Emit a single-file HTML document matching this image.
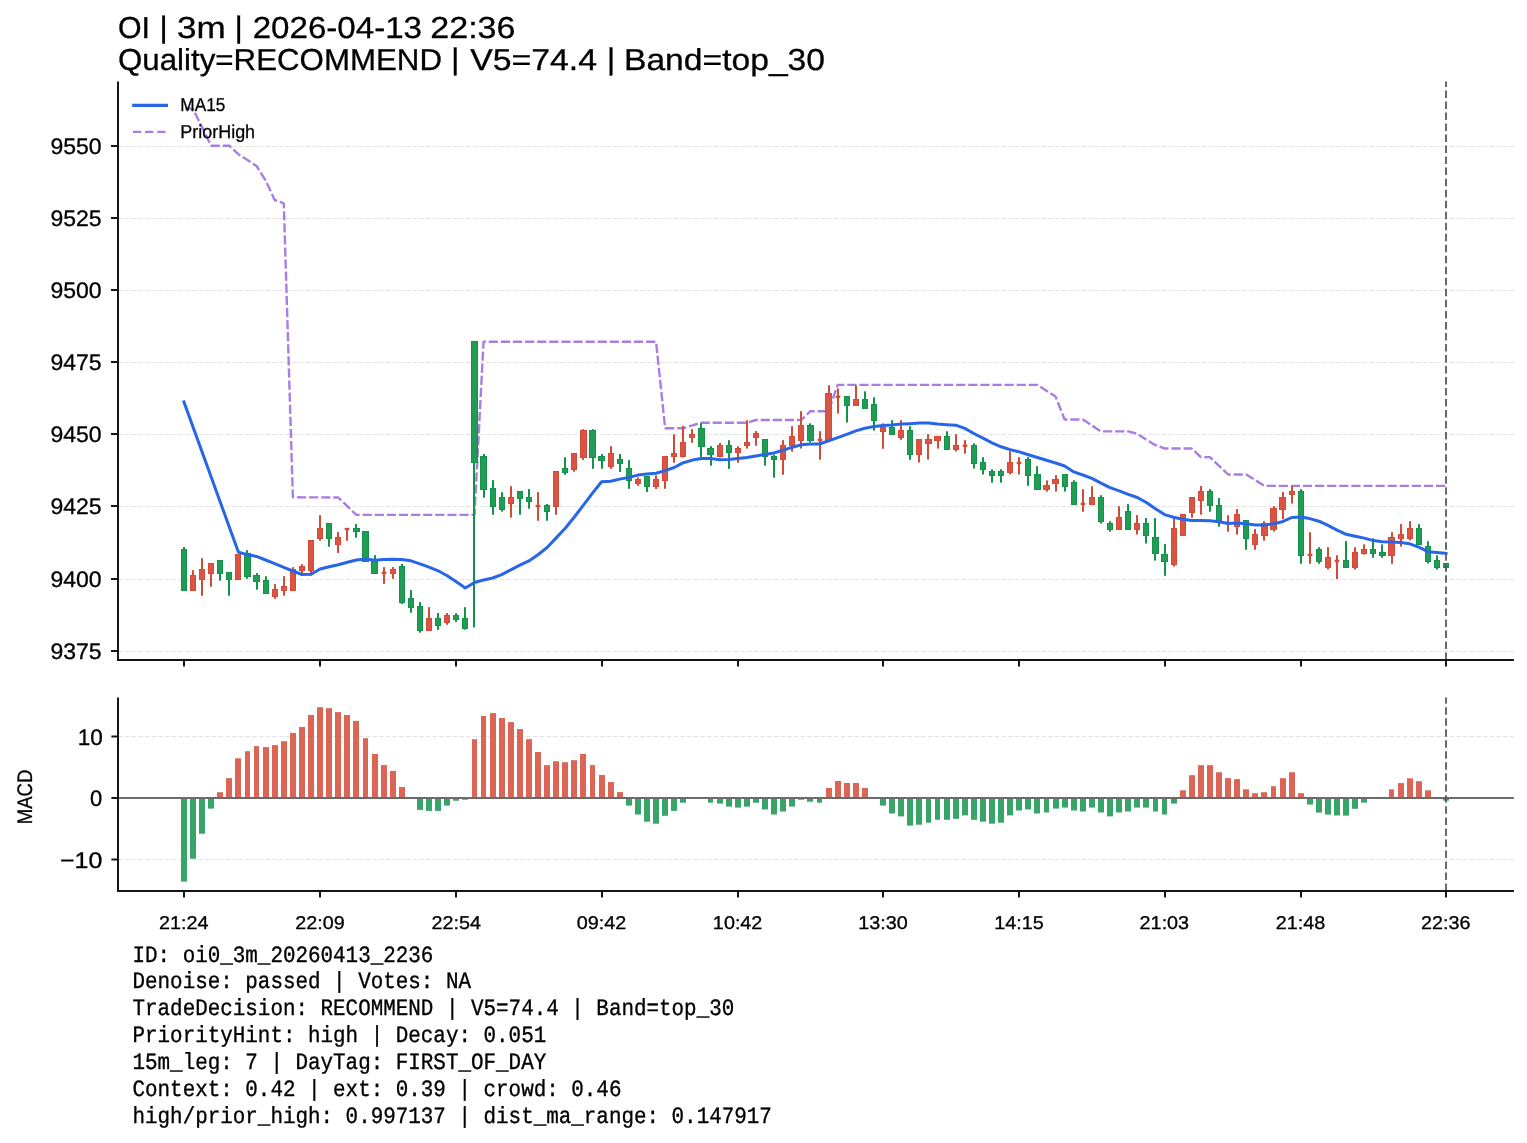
<!DOCTYPE html>
<html><head><meta charset="utf-8"><style>html,body{margin:0;padding:0;background:#fff;}svg{display:block;text-rendering:geometricPrecision;will-change:transform;}</style></head>
<body><svg width="1527" height="1143" viewBox="0 0 1527 1143">
<rect width="100%" height="100%" fill="#fff"/>
<g stroke="#e3e3e3" stroke-width="1" stroke-dasharray="4.5 2.19">
<line x1="118.3" y1="651.50" x2="1513.9" y2="651.50"/>
<line x1="118.3" y1="579.50" x2="1513.9" y2="579.50"/>
<line x1="118.3" y1="506.50" x2="1513.9" y2="506.50"/>
<line x1="118.3" y1="434.50" x2="1513.9" y2="434.50"/>
<line x1="118.3" y1="362.50" x2="1513.9" y2="362.50"/>
<line x1="118.3" y1="290.50" x2="1513.9" y2="290.50"/>
<line x1="118.3" y1="218.50" x2="1513.9" y2="218.50"/>
<line x1="118.3" y1="146.50" x2="1513.9" y2="146.50"/>
<line x1="118.3" y1="736.50" x2="1513.9" y2="736.50"/>
<line x1="118.3" y1="859.50" x2="1513.9" y2="859.50"/>
</g>
<polyline points="183.90,108.10 192.98,109.00 211.14,145.70 229.30,145.70 238.38,154.20 247.46,160.10 256.54,166.00 265.62,180.40 274.70,200.00 283.78,203.30 292.86,497.30 338.26,497.50 356.42,514.90 474.46,514.90 483.54,341.80 656.06,341.80 665.14,428.20 683.30,428.20 692.38,425.30 701.46,422.70 746.86,422.70 755.94,420.00 801.34,420.00 810.42,411.20 828.58,411.20 837.66,384.90 1037.42,384.90 1055.58,396.60 1064.66,419.50 1082.82,419.50 1100.98,431.40 1128.22,431.40 1137.30,433.80 1146.38,439.70 1155.46,445.20 1164.54,448.50 1191.78,448.50 1200.86,457.10 1209.94,457.10 1228.10,474.50 1246.26,474.50 1264.42,485.90 1446.02,485.90" fill="none" stroke="#a97ee3" stroke-width="2.4" stroke-dasharray="9.2 2.9" stroke-dashoffset="10.9" stroke-linejoin="round"/>
<rect x="183" y="547.12" width="2" height="43.59" fill="#11944a"/>
<rect x="181.5" y="549.5" width="5" height="41" fill="#209c55" stroke="#11944a" stroke-width="1"/>
<rect x="192" y="570.17" width="2" height="20.54" fill="#d34a36"/>
<rect x="190.5" y="575.5" width="5" height="15" fill="#d95442" stroke="#d34a36" stroke-width="1"/>
<rect x="201" y="558.12" width="2" height="37.62" fill="#d34a36"/>
<rect x="199.5" y="569.5" width="5" height="10" fill="#d95442" stroke="#d34a36" stroke-width="1"/>
<rect x="210" y="562.94" width="2" height="23.78" fill="#d34a36"/>
<rect x="208.5" y="563.5" width="5" height="10" fill="#d95442" stroke="#d34a36" stroke-width="1"/>
<rect x="219" y="560.01" width="2" height="20.64" fill="#11944a"/>
<rect x="217.5" y="560.5" width="5" height="13" fill="#209c55" stroke="#11944a" stroke-width="1"/>
<rect x="228" y="572.06" width="2" height="23.68" fill="#11944a"/>
<rect x="226.5" y="572.5" width="5" height="7" fill="#209c55" stroke="#11944a" stroke-width="1"/>
<rect x="237" y="553.93" width="2" height="25.88" fill="#d34a36"/>
<rect x="235.5" y="554.5" width="5" height="25" fill="#d95442" stroke="#d34a36" stroke-width="1"/>
<rect x="246" y="550.05" width="2" height="28.71" fill="#11944a"/>
<rect x="244.5" y="553.5" width="6" height="23" fill="#209c55" stroke="#11944a" stroke-width="1"/>
<rect x="256" y="573.11" width="2" height="16.55" fill="#11944a"/>
<rect x="253.5" y="575.5" width="6" height="6" fill="#209c55" stroke="#11944a" stroke-width="1"/>
<rect x="265" y="576.25" width="2" height="17.60" fill="#11944a"/>
<rect x="263.5" y="580.5" width="5" height="13" fill="#209c55" stroke="#11944a" stroke-width="1"/>
<rect x="274" y="584.11" width="2" height="14.67" fill="#d34a36"/>
<rect x="272.5" y="589.5" width="5" height="7" fill="#d95442" stroke="#d34a36" stroke-width="1"/>
<rect x="283" y="576.25" width="2" height="19.49" fill="#d34a36"/>
<rect x="281.5" y="586.5" width="5" height="4" fill="#d95442" stroke="#d34a36" stroke-width="1"/>
<rect x="292" y="567.13" width="2" height="23.58" fill="#d34a36"/>
<rect x="290.5" y="569.5" width="5" height="21" fill="#d95442" stroke="#d34a36" stroke-width="1"/>
<rect x="301" y="564.20" width="2" height="8.91" fill="#d34a36"/>
<rect x="299.5" y="566.5" width="5" height="4" fill="#d95442" stroke="#d34a36" stroke-width="1"/>
<rect x="310" y="540.21" width="2" height="35.21" fill="#d34a36"/>
<rect x="308.5" y="540.5" width="5" height="30" fill="#d95442" stroke="#d34a36" stroke-width="1"/>
<rect x="319" y="515.16" width="2" height="25.46" fill="#d34a36"/>
<rect x="317.5" y="528.5" width="5" height="10" fill="#d95442" stroke="#d34a36" stroke-width="1"/>
<rect x="328" y="523.02" width="2" height="23.68" fill="#11944a"/>
<rect x="326.5" y="523.5" width="5" height="15" fill="#209c55" stroke="#11944a" stroke-width="1"/>
<rect x="337" y="532.10" width="2" height="20.83" fill="#d34a36"/>
<rect x="335.5" y="537.5" width="5" height="7" fill="#d95442" stroke="#d34a36" stroke-width="1"/>
<rect x="346" y="528.42" width="2" height="12.37" fill="#d34a36"/>
<rect x="344.70" y="527.84" width="4.6" height="2.4" fill="#d34a36"/>
<rect x="355" y="524.13" width="2" height="13.60" fill="#11944a"/>
<rect x="353.5" y="528.5" width="6" height="3" fill="#209c55" stroke="#11944a" stroke-width="1"/>
<rect x="365" y="531.24" width="2" height="30.38" fill="#11944a"/>
<rect x="362.5" y="531.5" width="6" height="30" fill="#209c55" stroke="#11944a" stroke-width="1"/>
<rect x="374" y="555.13" width="2" height="18.74" fill="#11944a"/>
<rect x="371.5" y="560.5" width="6" height="13" fill="#209c55" stroke="#11944a" stroke-width="1"/>
<rect x="383" y="567.14" width="2" height="16.78" fill="#d34a36"/>
<rect x="381.70" y="571.69" width="4.6" height="2.4" fill="#d34a36"/>
<rect x="392" y="567.14" width="2" height="11.64" fill="#d34a36"/>
<rect x="390.5" y="569.5" width="5" height="4" fill="#d95442" stroke="#d34a36" stroke-width="1"/>
<rect x="401" y="564.07" width="2" height="39.82" fill="#11944a"/>
<rect x="399.5" y="566.5" width="5" height="36" fill="#209c55" stroke="#11944a" stroke-width="1"/>
<rect x="410" y="590.05" width="2" height="22.66" fill="#11944a"/>
<rect x="408.5" y="598.5" width="5" height="9" fill="#209c55" stroke="#11944a" stroke-width="1"/>
<rect x="419" y="602.05" width="2" height="30.63" fill="#11944a"/>
<rect x="417.5" y="606.5" width="5" height="24" fill="#209c55" stroke="#11944a" stroke-width="1"/>
<rect x="428" y="607.20" width="2" height="23.64" fill="#d34a36"/>
<rect x="426.5" y="618.5" width="5" height="12" fill="#d95442" stroke="#d34a36" stroke-width="1"/>
<rect x="437" y="613.08" width="2" height="16.78" fill="#11944a"/>
<rect x="435.5" y="618.5" width="5" height="7" fill="#209c55" stroke="#11944a" stroke-width="1"/>
<rect x="446" y="613.08" width="2" height="11.64" fill="#d34a36"/>
<rect x="444.5" y="615.5" width="5" height="7" fill="#d95442" stroke="#d34a36" stroke-width="1"/>
<rect x="455" y="613.08" width="2" height="8.82" fill="#11944a"/>
<rect x="453.5" y="615.5" width="5" height="4" fill="#209c55" stroke="#11944a" stroke-width="1"/>
<rect x="464" y="607.20" width="2" height="22.42" fill="#11944a"/>
<rect x="462.5" y="618.5" width="5" height="10" fill="#209c55" stroke="#11944a" stroke-width="1"/>
<rect x="473" y="341.40" width="2" height="286.10" fill="#11944a"/>
<rect x="471.5" y="341.5" width="6" height="121" fill="#209c55" stroke="#11944a" stroke-width="1"/>
<rect x="483" y="454.09" width="2" height="43.57" fill="#11944a"/>
<rect x="480.5" y="456.5" width="6" height="33" fill="#209c55" stroke="#11944a" stroke-width="1"/>
<rect x="492" y="480.13" width="2" height="34.65" fill="#11944a"/>
<rect x="490.5" y="488.5" width="5" height="18" fill="#209c55" stroke="#11944a" stroke-width="1"/>
<rect x="501" y="492.20" width="2" height="19.42" fill="#11944a"/>
<rect x="499.5" y="497.5" width="5" height="12" fill="#209c55" stroke="#11944a" stroke-width="1"/>
<rect x="510" y="486.12" width="2" height="31.50" fill="#d34a36"/>
<rect x="508.5" y="497.5" width="5" height="6" fill="#d95442" stroke="#d34a36" stroke-width="1"/>
<rect x="519" y="491.15" width="2" height="23.62" fill="#11944a"/>
<rect x="517.5" y="491.5" width="5" height="7" fill="#209c55" stroke="#11944a" stroke-width="1"/>
<rect x="528" y="489.06" width="2" height="19.63" fill="#11944a"/>
<rect x="526.5" y="497.5" width="5" height="4" fill="#209c55" stroke="#11944a" stroke-width="1"/>
<rect x="537" y="492.20" width="2" height="28.56" fill="#d34a36"/>
<rect x="535.70" y="504.86" width="4.6" height="2.4" fill="#d34a36"/>
<rect x="546" y="503.96" width="2" height="16.80" fill="#11944a"/>
<rect x="544.5" y="505.5" width="5" height="6" fill="#209c55" stroke="#11944a" stroke-width="1"/>
<rect x="555" y="471.21" width="2" height="43.57" fill="#d34a36"/>
<rect x="553.5" y="471.5" width="5" height="35" fill="#d95442" stroke="#d34a36" stroke-width="1"/>
<rect x="564" y="457.24" width="2" height="17.53" fill="#11944a"/>
<rect x="562.5" y="468.5" width="5" height="4" fill="#209c55" stroke="#11944a" stroke-width="1"/>
<rect x="573" y="453.04" width="2" height="18.69" fill="#d34a36"/>
<rect x="571.5" y="453.5" width="5" height="16" fill="#d95442" stroke="#d34a36" stroke-width="1"/>
<rect x="582" y="429.21" width="2" height="30.66" fill="#d34a36"/>
<rect x="580.5" y="430.5" width="6" height="27" fill="#d95442" stroke="#d34a36" stroke-width="1"/>
<rect x="592" y="429.21" width="2" height="39.58" fill="#11944a"/>
<rect x="589.5" y="430.5" width="6" height="27" fill="#209c55" stroke="#11944a" stroke-width="1"/>
<rect x="601" y="454.09" width="2" height="14.70" fill="#11944a"/>
<rect x="598.5" y="456.5" width="6" height="4" fill="#209c55" stroke="#11944a" stroke-width="1"/>
<rect x="610" y="446.22" width="2" height="22.57" fill="#d34a36"/>
<rect x="608.5" y="453.5" width="5" height="13" fill="#d95442" stroke="#d34a36" stroke-width="1"/>
<rect x="619" y="454.09" width="2" height="17.85" fill="#11944a"/>
<rect x="617.5" y="459.5" width="5" height="4" fill="#209c55" stroke="#11944a" stroke-width="1"/>
<rect x="628" y="460.12" width="2" height="28.66" fill="#11944a"/>
<rect x="626.5" y="468.5" width="5" height="12" fill="#209c55" stroke="#11944a" stroke-width="1"/>
<rect x="637" y="477.44" width="2" height="8.40" fill="#d34a36"/>
<rect x="635.5" y="479.5" width="5" height="4" fill="#d95442" stroke="#d34a36" stroke-width="1"/>
<rect x="646" y="476.39" width="2" height="15.54" fill="#11944a"/>
<rect x="644.5" y="476.5" width="5" height="10" fill="#209c55" stroke="#11944a" stroke-width="1"/>
<rect x="655" y="475.34" width="2" height="13.65" fill="#d34a36"/>
<rect x="653.5" y="479.5" width="5" height="7" fill="#d95442" stroke="#d34a36" stroke-width="1"/>
<rect x="664" y="456.23" width="2" height="32.55" fill="#d34a36"/>
<rect x="662.5" y="456.5" width="5" height="24" fill="#d95442" stroke="#d34a36" stroke-width="1"/>
<rect x="673" y="434.19" width="2" height="28.56" fill="#d34a36"/>
<rect x="671.5" y="453.5" width="5" height="3" fill="#d95442" stroke="#d34a36" stroke-width="1"/>
<rect x="682" y="426.00" width="2" height="31.50" fill="#d34a36"/>
<rect x="680.5" y="442.5" width="5" height="14" fill="#d95442" stroke="#d34a36" stroke-width="1"/>
<rect x="691" y="429.15" width="2" height="13.65" fill="#d34a36"/>
<rect x="689.5" y="434.5" width="5" height="3" fill="#d95442" stroke="#d34a36" stroke-width="1"/>
<rect x="700" y="423.06" width="2" height="33.91" fill="#11944a"/>
<rect x="698.5" y="428.5" width="6" height="18" fill="#209c55" stroke="#11944a" stroke-width="1"/>
<rect x="710" y="446.15" width="2" height="19.53" fill="#11944a"/>
<rect x="707.5" y="448.5" width="6" height="6" fill="#209c55" stroke="#11944a" stroke-width="1"/>
<rect x="719" y="443.01" width="2" height="14.49" fill="#d34a36"/>
<rect x="717.5" y="445.5" width="5" height="11" fill="#d95442" stroke="#d34a36" stroke-width="1"/>
<rect x="728" y="440.17" width="2" height="28.66" fill="#11944a"/>
<rect x="726.5" y="445.5" width="5" height="7" fill="#209c55" stroke="#11944a" stroke-width="1"/>
<rect x="737" y="446.15" width="2" height="16.59" fill="#d34a36"/>
<rect x="735.5" y="448.5" width="5" height="4" fill="#d95442" stroke="#d34a36" stroke-width="1"/>
<rect x="746" y="420.22" width="2" height="28.35" fill="#d34a36"/>
<rect x="744.5" y="442.5" width="5" height="3" fill="#d95442" stroke="#d34a36" stroke-width="1"/>
<rect x="755" y="431.04" width="2" height="14.70" fill="#d34a36"/>
<rect x="753.5" y="433.5" width="5" height="4" fill="#d95442" stroke="#d34a36" stroke-width="1"/>
<rect x="764" y="439.12" width="2" height="26.56" fill="#11944a"/>
<rect x="762.5" y="439.5" width="5" height="17" fill="#209c55" stroke="#11944a" stroke-width="1"/>
<rect x="773" y="454.83" width="2" height="22.78" fill="#11944a"/>
<rect x="771.5" y="456.5" width="5" height="3" fill="#209c55" stroke="#11944a" stroke-width="1"/>
<rect x="782" y="440.13" width="2" height="34.65" fill="#d34a36"/>
<rect x="780.5" y="445.5" width="5" height="14" fill="#d95442" stroke="#d34a36" stroke-width="1"/>
<rect x="791" y="426.17" width="2" height="25.51" fill="#d34a36"/>
<rect x="789.5" y="436.5" width="5" height="9" fill="#d95442" stroke="#d34a36" stroke-width="1"/>
<rect x="800" y="411.15" width="2" height="37.38" fill="#d34a36"/>
<rect x="798.5" y="425.5" width="5" height="15" fill="#d95442" stroke="#d34a36" stroke-width="1"/>
<rect x="809" y="423.33" width="2" height="19.11" fill="#11944a"/>
<rect x="807.5" y="425.5" width="6" height="15" fill="#209c55" stroke="#11944a" stroke-width="1"/>
<rect x="819" y="431.21" width="2" height="28.56" fill="#d34a36"/>
<rect x="817.70" y="438.62" width="4.6" height="2.4" fill="#d34a36"/>
<rect x="828" y="385.22" width="2" height="55.33" fill="#d34a36"/>
<rect x="825.5" y="393.5" width="6" height="47" fill="#d95442" stroke="#d34a36" stroke-width="1"/>
<rect x="837" y="388.37" width="2" height="25.20" fill="#d34a36"/>
<rect x="835.70" y="395.68" width="4.6" height="2.4" fill="#d34a36"/>
<rect x="846" y="396.25" width="2" height="26.25" fill="#11944a"/>
<rect x="844.5" y="396.5" width="5" height="9" fill="#209c55" stroke="#11944a" stroke-width="1"/>
<rect x="855" y="385.22" width="2" height="20.47" fill="#d34a36"/>
<rect x="853.5" y="399.5" width="5" height="6" fill="#d95442" stroke="#d34a36" stroke-width="1"/>
<rect x="864" y="391.31" width="2" height="17.32" fill="#11944a"/>
<rect x="862.5" y="399.5" width="5" height="9" fill="#209c55" stroke="#11944a" stroke-width="1"/>
<rect x="873" y="397.30" width="2" height="33.39" fill="#11944a"/>
<rect x="871.5" y="404.5" width="5" height="16" fill="#209c55" stroke="#11944a" stroke-width="1"/>
<rect x="882" y="423.33" width="2" height="25.41" fill="#d34a36"/>
<rect x="880.5" y="427.5" width="5" height="4" fill="#d95442" stroke="#d34a36" stroke-width="1"/>
<rect x="891" y="420.18" width="2" height="14.38" fill="#11944a"/>
<rect x="889.5" y="427.5" width="5" height="7" fill="#209c55" stroke="#11944a" stroke-width="1"/>
<rect x="900" y="420.18" width="2" height="19.63" fill="#d34a36"/>
<rect x="898.5" y="430.5" width="5" height="7" fill="#d95442" stroke="#d34a36" stroke-width="1"/>
<rect x="909" y="426.17" width="2" height="33.60" fill="#11944a"/>
<rect x="907.5" y="430.5" width="5" height="24" fill="#209c55" stroke="#11944a" stroke-width="1"/>
<rect x="918" y="439.12" width="2" height="23.41" fill="#d34a36"/>
<rect x="916.5" y="439.5" width="5" height="15" fill="#d95442" stroke="#d34a36" stroke-width="1"/>
<rect x="927" y="434.19" width="2" height="25.41" fill="#d34a36"/>
<rect x="925.5" y="439.5" width="6" height="4" fill="#d95442" stroke="#d34a36" stroke-width="1"/>
<rect x="937" y="436.18" width="2" height="12.39" fill="#d34a36"/>
<rect x="934.5" y="436.5" width="6" height="4" fill="#d95442" stroke="#d34a36" stroke-width="1"/>
<rect x="946" y="431.25" width="2" height="18.37" fill="#11944a"/>
<rect x="944.5" y="436.5" width="5" height="13" fill="#209c55" stroke="#11944a" stroke-width="1"/>
<rect x="955" y="434.19" width="2" height="17.32" fill="#d34a36"/>
<rect x="953.5" y="445.5" width="5" height="4" fill="#d95442" stroke="#d34a36" stroke-width="1"/>
<rect x="964" y="440.17" width="2" height="13.44" fill="#d34a36"/>
<rect x="962.70" y="444.53" width="4.6" height="2.4" fill="#d34a36"/>
<rect x="973" y="443.32" width="2" height="25.20" fill="#11944a"/>
<rect x="971.5" y="445.5" width="5" height="18" fill="#209c55" stroke="#11944a" stroke-width="1"/>
<rect x="982" y="457.18" width="2" height="17.32" fill="#11944a"/>
<rect x="980.5" y="462.5" width="5" height="7" fill="#209c55" stroke="#11944a" stroke-width="1"/>
<rect x="991" y="469.25" width="2" height="13.44" fill="#11944a"/>
<rect x="989.5" y="471.5" width="5" height="4" fill="#209c55" stroke="#11944a" stroke-width="1"/>
<rect x="1000" y="469.25" width="2" height="13.44" fill="#11944a"/>
<rect x="998.5" y="471.5" width="5" height="4" fill="#209c55" stroke="#11944a" stroke-width="1"/>
<rect x="1009" y="451.19" width="2" height="23.31" fill="#d34a36"/>
<rect x="1007.5" y="462.5" width="5" height="10" fill="#d95442" stroke="#d34a36" stroke-width="1"/>
<rect x="1018" y="457.18" width="2" height="17.32" fill="#d34a36"/>
<rect x="1016.70" y="461.70" width="4.6" height="2.4" fill="#d34a36"/>
<rect x="1027" y="457.18" width="2" height="28.66" fill="#11944a"/>
<rect x="1025.5" y="459.5" width="5" height="16" fill="#209c55" stroke="#11944a" stroke-width="1"/>
<rect x="1036" y="466.21" width="2" height="23.31" fill="#11944a"/>
<rect x="1034.5" y="474.5" width="6" height="15" fill="#209c55" stroke="#11944a" stroke-width="1"/>
<rect x="1046" y="480.38" width="2" height="11.23" fill="#d34a36"/>
<rect x="1043.5" y="485.5" width="6" height="4" fill="#d95442" stroke="#d34a36" stroke-width="1"/>
<rect x="1055" y="475.13" width="2" height="16.48" fill="#d34a36"/>
<rect x="1052.5" y="479.5" width="6" height="4" fill="#d95442" stroke="#d34a36" stroke-width="1"/>
<rect x="1064" y="474.20" width="2" height="17.32" fill="#11944a"/>
<rect x="1062.5" y="474.5" width="5" height="12" fill="#209c55" stroke="#11944a" stroke-width="1"/>
<rect x="1073" y="480.29" width="2" height="24.67" fill="#11944a"/>
<rect x="1071.5" y="482.5" width="5" height="22" fill="#209c55" stroke="#11944a" stroke-width="1"/>
<rect x="1082" y="489.21" width="2" height="22.57" fill="#d34a36"/>
<rect x="1080.70" y="502.71" width="4.6" height="2.4" fill="#d34a36"/>
<rect x="1091" y="486.27" width="2" height="18.69" fill="#d34a36"/>
<rect x="1089.5" y="497.5" width="5" height="7" fill="#d95442" stroke="#d34a36" stroke-width="1"/>
<rect x="1100" y="495.20" width="2" height="28.35" fill="#11944a"/>
<rect x="1098.5" y="497.5" width="5" height="24" fill="#209c55" stroke="#11944a" stroke-width="1"/>
<rect x="1109" y="521.23" width="2" height="10.50" fill="#11944a"/>
<rect x="1107.5" y="523.5" width="5" height="6" fill="#209c55" stroke="#11944a" stroke-width="1"/>
<rect x="1118" y="506.22" width="2" height="23.62" fill="#d34a36"/>
<rect x="1116.5" y="517.5" width="5" height="12" fill="#d95442" stroke="#d34a36" stroke-width="1"/>
<rect x="1127" y="504.12" width="2" height="25.72" fill="#11944a"/>
<rect x="1125.5" y="511.5" width="5" height="18" fill="#209c55" stroke="#11944a" stroke-width="1"/>
<rect x="1136" y="515.14" width="2" height="19.42" fill="#d34a36"/>
<rect x="1134.5" y="523.5" width="5" height="6" fill="#d95442" stroke="#d34a36" stroke-width="1"/>
<rect x="1145" y="518.08" width="2" height="25.41" fill="#11944a"/>
<rect x="1143.5" y="523.5" width="5" height="12" fill="#209c55" stroke="#11944a" stroke-width="1"/>
<rect x="1154" y="518.08" width="2" height="42.52" fill="#11944a"/>
<rect x="1152.5" y="537.5" width="6" height="16" fill="#209c55" stroke="#11944a" stroke-width="1"/>
<rect x="1164" y="544.02" width="2" height="31.81" fill="#11944a"/>
<rect x="1161.5" y="554.5" width="6" height="7" fill="#209c55" stroke="#11944a" stroke-width="1"/>
<rect x="1173" y="518.29" width="2" height="48.29" fill="#d34a36"/>
<rect x="1171.5" y="528.5" width="5" height="36" fill="#d95442" stroke="#d34a36" stroke-width="1"/>
<rect x="1182" y="514.09" width="2" height="21.84" fill="#d34a36"/>
<rect x="1180.5" y="514.5" width="5" height="21" fill="#d95442" stroke="#d34a36" stroke-width="1"/>
<rect x="1191" y="497.30" width="2" height="20.47" fill="#d34a36"/>
<rect x="1189.5" y="497.5" width="5" height="15" fill="#d95442" stroke="#d34a36" stroke-width="1"/>
<rect x="1200" y="486.06" width="2" height="28.56" fill="#d34a36"/>
<rect x="1198.5" y="491.5" width="5" height="9" fill="#d95442" stroke="#d34a36" stroke-width="1"/>
<rect x="1209" y="489.17" width="2" height="22.57" fill="#11944a"/>
<rect x="1207.5" y="491.5" width="5" height="14" fill="#209c55" stroke="#11944a" stroke-width="1"/>
<rect x="1218" y="498.10" width="2" height="28.56" fill="#11944a"/>
<rect x="1216.5" y="505.5" width="5" height="15" fill="#209c55" stroke="#11944a" stroke-width="1"/>
<rect x="1227" y="515.21" width="2" height="16.48" fill="#d34a36"/>
<rect x="1225.70" y="521.67" width="4.6" height="2.4" fill="#d34a36"/>
<rect x="1236" y="509.12" width="2" height="25.51" fill="#d34a36"/>
<rect x="1234.5" y="514.5" width="5" height="12" fill="#d95442" stroke="#d34a36" stroke-width="1"/>
<rect x="1245" y="520.14" width="2" height="29.61" fill="#11944a"/>
<rect x="1243.5" y="520.5" width="5" height="18" fill="#209c55" stroke="#11944a" stroke-width="1"/>
<rect x="1254" y="529.07" width="2" height="20.68" fill="#d34a36"/>
<rect x="1252.5" y="534.5" width="5" height="10" fill="#d95442" stroke="#d34a36" stroke-width="1"/>
<rect x="1263" y="521.19" width="2" height="19.42" fill="#d34a36"/>
<rect x="1261.5" y="523.5" width="6" height="12" fill="#d95442" stroke="#d34a36" stroke-width="1"/>
<rect x="1273" y="506.18" width="2" height="25.30" fill="#d34a36"/>
<rect x="1270.5" y="508.5" width="6" height="21" fill="#d95442" stroke="#d34a36" stroke-width="1"/>
<rect x="1282" y="492.11" width="2" height="26.98" fill="#d34a36"/>
<rect x="1279.5" y="497.5" width="6" height="12" fill="#d95442" stroke="#d34a36" stroke-width="1"/>
<rect x="1291" y="486.02" width="2" height="17.53" fill="#d34a36"/>
<rect x="1289.5" y="491.5" width="5" height="3" fill="#d95442" stroke="#d34a36" stroke-width="1"/>
<rect x="1300" y="489.17" width="2" height="74.54" fill="#11944a"/>
<rect x="1298.5" y="491.5" width="5" height="64" fill="#209c55" stroke="#11944a" stroke-width="1"/>
<rect x="1309" y="532.22" width="2" height="31.50" fill="#d34a36"/>
<rect x="1307.70" y="553.75" width="4.6" height="2.4" fill="#d34a36"/>
<rect x="1318" y="547.23" width="2" height="16.48" fill="#11944a"/>
<rect x="1316.5" y="549.5" width="5" height="12" fill="#209c55" stroke="#11944a" stroke-width="1"/>
<rect x="1327" y="547.23" width="2" height="22.26" fill="#d34a36"/>
<rect x="1325.5" y="557.5" width="5" height="10" fill="#d95442" stroke="#d34a36" stroke-width="1"/>
<rect x="1336" y="555.31" width="2" height="23.62" fill="#d34a36"/>
<rect x="1334.70" y="559.73" width="4.6" height="2.4" fill="#d34a36"/>
<rect x="1345" y="541.14" width="2" height="26.46" fill="#11944a"/>
<rect x="1343.5" y="560.5" width="5" height="7" fill="#209c55" stroke="#11944a" stroke-width="1"/>
<rect x="1354" y="547.22" width="2" height="22.36" fill="#d34a36"/>
<rect x="1352.5" y="552.5" width="5" height="15" fill="#d95442" stroke="#d34a36" stroke-width="1"/>
<rect x="1363" y="544.38" width="2" height="10.18" fill="#d34a36"/>
<rect x="1361.5" y="549.5" width="5" height="4" fill="#d95442" stroke="#d34a36" stroke-width="1"/>
<rect x="1372" y="538.29" width="2" height="19.42" fill="#11944a"/>
<rect x="1370.5" y="549.5" width="5" height="4" fill="#209c55" stroke="#11944a" stroke-width="1"/>
<rect x="1381" y="544.38" width="2" height="13.33" fill="#11944a"/>
<rect x="1379.5" y="552.5" width="6" height="3" fill="#209c55" stroke="#11944a" stroke-width="1"/>
<rect x="1391" y="532.20" width="2" height="31.60" fill="#d34a36"/>
<rect x="1388.5" y="537.5" width="6" height="18" fill="#d95442" stroke="#d34a36" stroke-width="1"/>
<rect x="1400" y="524.12" width="2" height="22.57" fill="#d34a36"/>
<rect x="1398.5" y="534.5" width="5" height="4" fill="#d95442" stroke="#d34a36" stroke-width="1"/>
<rect x="1409" y="521.18" width="2" height="19.21" fill="#d34a36"/>
<rect x="1407.5" y="528.5" width="5" height="10" fill="#d95442" stroke="#d34a36" stroke-width="1"/>
<rect x="1418" y="524.12" width="2" height="20.47" fill="#11944a"/>
<rect x="1416.5" y="528.5" width="5" height="16" fill="#209c55" stroke="#11944a" stroke-width="1"/>
<rect x="1427" y="541.23" width="2" height="22.26" fill="#11944a"/>
<rect x="1425.5" y="546.5" width="5" height="15" fill="#209c55" stroke="#11944a" stroke-width="1"/>
<rect x="1436" y="555.30" width="2" height="14.28" fill="#11944a"/>
<rect x="1434.5" y="560.5" width="5" height="7" fill="#209c55" stroke="#11944a" stroke-width="1"/>
<rect x="1445" y="563.28" width="2" height="7.35" fill="#11944a"/>
<rect x="1443.5" y="563.5" width="5" height="4" fill="#209c55" stroke="#11944a" stroke-width="1"/>
<polyline points="183.90,401.80 238.38,552.10 247.46,554.80 256.54,556.40 265.62,560.00 274.70,563.70 283.78,567.30 292.86,571.00 301.94,574.50 311.02,574.20 320.10,569.00 329.18,566.80 338.26,564.80 347.34,562.30 356.42,560.00 365.50,558.90 374.58,560.20 383.66,559.60 392.74,559.20 401.82,559.60 410.90,560.80 419.98,563.80 429.06,567.20 438.14,570.80 447.22,575.80 456.30,581.80 465.38,588.00 474.46,582.50 483.54,580.00 492.62,578.00 501.70,574.60 510.78,569.80 519.86,565.10 528.94,560.90 538.02,554.70 547.10,547.50 556.18,537.90 565.26,528.20 574.34,517.00 583.42,505.10 592.50,493.20 601.58,481.80 610.66,481.30 619.74,479.10 628.82,477.40 637.90,475.10 646.98,474.10 656.06,473.20 665.14,470.60 674.22,467.50 683.30,462.70 692.38,460.10 701.46,458.50 710.54,458.50 719.62,459.80 728.70,459.40 737.78,458.50 746.86,457.50 755.94,455.90 765.02,454.40 774.10,452.90 783.18,450.30 792.26,447.20 801.34,444.80 810.42,444.00 819.50,444.00 828.58,440.90 837.66,437.70 846.74,434.30 855.82,430.90 864.90,428.30 873.98,426.50 883.06,425.60 892.14,425.10 901.22,424.10 910.30,423.70 919.38,423.10 928.46,423.10 937.54,424.10 946.62,424.70 955.70,425.20 964.78,428.40 973.86,433.50 982.94,438.20 992.02,442.90 1001.10,446.80 1010.18,449.60 1019.26,451.90 1028.34,454.70 1037.42,457.50 1046.50,460.30 1055.58,463.00 1064.66,466.00 1073.74,471.90 1082.82,475.00 1091.90,478.40 1100.98,483.10 1110.06,487.60 1119.14,490.80 1128.22,494.40 1137.30,497.50 1146.38,502.50 1155.46,508.80 1164.54,514.60 1173.62,517.20 1182.70,519.30 1191.78,520.40 1200.86,520.50 1209.94,520.70 1219.02,521.70 1228.10,523.50 1237.18,523.10 1246.26,523.80 1255.34,524.90 1264.42,524.90 1273.50,523.80 1282.58,521.70 1291.66,517.50 1300.74,517.00 1309.82,518.60 1318.90,521.20 1327.98,525.40 1337.06,530.10 1346.14,534.30 1355.22,536.20 1364.30,538.10 1373.38,540.60 1382.46,541.70 1391.54,542.00 1400.62,542.50 1409.70,543.80 1418.78,547.20 1427.86,551.70 1436.94,552.50 1446.02,553.30" fill="none" stroke="#2766e8" stroke-width="3.0" stroke-linejoin="round" stroke-linecap="square"/>
<line x1="1446.02" y1="660.0" x2="1446.02" y2="81.4" stroke="#555" stroke-width="1.75" stroke-dasharray="7.5 3.52"/>
<rect x="181" y="798.00" width="6" height="83.60" fill="#36a567"/>
<rect x="190" y="798.00" width="6" height="60.70" fill="#36a567"/>
<rect x="199" y="798.00" width="6" height="35.70" fill="#36a567"/>
<rect x="208" y="798.00" width="6" height="10.60" fill="#36a567"/>
<rect x="217" y="792.20" width="6" height="5.80" fill="#dd6555"/>
<rect x="226" y="778.10" width="6" height="19.90" fill="#dd6555"/>
<rect x="235" y="758.30" width="6" height="39.70" fill="#dd6555"/>
<rect x="245" y="751.20" width="5" height="46.80" fill="#dd6555"/>
<rect x="254" y="746.10" width="5" height="51.90" fill="#dd6555"/>
<rect x="263" y="747.10" width="6" height="50.90" fill="#dd6555"/>
<rect x="272" y="745.10" width="6" height="52.90" fill="#dd6555"/>
<rect x="281" y="741.20" width="6" height="56.80" fill="#dd6555"/>
<rect x="290" y="732.90" width="6" height="65.10" fill="#dd6555"/>
<rect x="299" y="727.00" width="6" height="71.00" fill="#dd6555"/>
<rect x="308" y="715.00" width="6" height="83.00" fill="#dd6555"/>
<rect x="317" y="707.20" width="6" height="90.80" fill="#dd6555"/>
<rect x="326" y="708.20" width="6" height="89.80" fill="#dd6555"/>
<rect x="335" y="712.10" width="6" height="85.90" fill="#dd6555"/>
<rect x="344" y="715.00" width="6" height="83.00" fill="#dd6555"/>
<rect x="353" y="720.90" width="6" height="77.10" fill="#dd6555"/>
<rect x="363" y="738.20" width="5" height="59.80" fill="#dd6555"/>
<rect x="372" y="753.90" width="6" height="44.10" fill="#dd6555"/>
<rect x="381" y="765.10" width="6" height="32.90" fill="#dd6555"/>
<rect x="390" y="771.00" width="6" height="27.00" fill="#dd6555"/>
<rect x="399" y="787.00" width="6" height="11.00" fill="#dd6555"/>
<rect x="408" y="797.50" width="6" height="0.50" fill="#dd6555"/>
<rect x="417" y="798.00" width="6" height="11.90" fill="#36a567"/>
<rect x="426" y="798.00" width="6" height="12.90" fill="#36a567"/>
<rect x="435" y="798.00" width="6" height="12.90" fill="#36a567"/>
<rect x="444" y="798.00" width="6" height="7.60" fill="#36a567"/>
<rect x="453" y="798.00" width="6" height="2.70" fill="#36a567"/>
<rect x="462" y="798.00" width="6" height="1.70" fill="#36a567"/>
<rect x="472" y="739.20" width="5" height="58.80" fill="#dd6555"/>
<rect x="481" y="716.00" width="5" height="82.00" fill="#dd6555"/>
<rect x="490" y="713.10" width="6" height="84.90" fill="#dd6555"/>
<rect x="499" y="718.00" width="6" height="80.00" fill="#dd6555"/>
<rect x="508" y="722.10" width="6" height="75.90" fill="#dd6555"/>
<rect x="517" y="729.00" width="6" height="69.00" fill="#dd6555"/>
<rect x="526" y="739.20" width="6" height="58.80" fill="#dd6555"/>
<rect x="535" y="752.00" width="6" height="46.00" fill="#dd6555"/>
<rect x="544" y="765.10" width="6" height="32.90" fill="#dd6555"/>
<rect x="553" y="761.20" width="6" height="36.80" fill="#dd6555"/>
<rect x="562" y="762.20" width="6" height="35.80" fill="#dd6555"/>
<rect x="571" y="760.20" width="6" height="37.80" fill="#dd6555"/>
<rect x="580" y="753.90" width="6" height="44.10" fill="#dd6555"/>
<rect x="590" y="765.10" width="5" height="32.90" fill="#dd6555"/>
<rect x="599" y="775.00" width="6" height="23.00" fill="#dd6555"/>
<rect x="608" y="782.00" width="6" height="16.00" fill="#dd6555"/>
<rect x="617" y="792.10" width="6" height="5.90" fill="#dd6555"/>
<rect x="626" y="798.00" width="6" height="7.60" fill="#36a567"/>
<rect x="635" y="798.00" width="6" height="16.50" fill="#36a567"/>
<rect x="644" y="798.00" width="6" height="23.70" fill="#36a567"/>
<rect x="653" y="798.00" width="6" height="25.70" fill="#36a567"/>
<rect x="662" y="798.00" width="6" height="17.80" fill="#36a567"/>
<rect x="671" y="798.00" width="6" height="12.90" fill="#36a567"/>
<rect x="680" y="798.00" width="6" height="4.70" fill="#36a567"/>
<rect x="689" y="797.20" width="6" height="0.80" fill="#dd6555"/>
<rect x="708" y="798.00" width="5" height="4.70" fill="#36a567"/>
<rect x="717" y="798.00" width="6" height="5.60" fill="#36a567"/>
<rect x="726" y="798.00" width="6" height="8.60" fill="#36a567"/>
<rect x="735" y="798.00" width="6" height="9.60" fill="#36a567"/>
<rect x="744" y="798.00" width="6" height="8.60" fill="#36a567"/>
<rect x="753" y="798.00" width="6" height="4.70" fill="#36a567"/>
<rect x="762" y="798.00" width="6" height="11.50" fill="#36a567"/>
<rect x="771" y="798.00" width="6" height="16.50" fill="#36a567"/>
<rect x="780" y="798.00" width="6" height="13.50" fill="#36a567"/>
<rect x="789" y="798.00" width="6" height="8.60" fill="#36a567"/>
<rect x="798" y="798.00" width="6" height="1.70" fill="#36a567"/>
<rect x="807" y="798.00" width="6" height="3.70" fill="#36a567"/>
<rect x="817" y="798.00" width="5" height="4.70" fill="#36a567"/>
<rect x="826" y="787.90" width="6" height="10.10" fill="#dd6555"/>
<rect x="835" y="781.00" width="6" height="17.00" fill="#dd6555"/>
<rect x="844" y="783.00" width="6" height="15.00" fill="#dd6555"/>
<rect x="853" y="783.00" width="6" height="15.00" fill="#dd6555"/>
<rect x="862" y="787.90" width="6" height="10.10" fill="#dd6555"/>
<rect x="871" y="797.30" width="6" height="0.70" fill="#dd6555"/>
<rect x="880" y="798.00" width="6" height="7.60" fill="#36a567"/>
<rect x="889" y="798.00" width="6" height="15.50" fill="#36a567"/>
<rect x="898" y="798.00" width="6" height="18.40" fill="#36a567"/>
<rect x="907" y="798.00" width="6" height="27.60" fill="#36a567"/>
<rect x="916" y="798.00" width="6" height="26.70" fill="#36a567"/>
<rect x="926" y="798.00" width="5" height="24.70" fill="#36a567"/>
<rect x="935" y="798.00" width="5" height="21.80" fill="#36a567"/>
<rect x="944" y="798.00" width="6" height="21.80" fill="#36a567"/>
<rect x="953" y="798.00" width="6" height="20.80" fill="#36a567"/>
<rect x="962" y="798.00" width="6" height="17.40" fill="#36a567"/>
<rect x="971" y="798.00" width="6" height="21.80" fill="#36a567"/>
<rect x="980" y="798.00" width="6" height="23.70" fill="#36a567"/>
<rect x="989" y="798.00" width="6" height="25.70" fill="#36a567"/>
<rect x="998" y="798.00" width="6" height="24.70" fill="#36a567"/>
<rect x="1007" y="798.00" width="6" height="17.40" fill="#36a567"/>
<rect x="1016" y="798.00" width="6" height="12.50" fill="#36a567"/>
<rect x="1025" y="798.00" width="6" height="11.50" fill="#36a567"/>
<rect x="1034" y="798.00" width="6" height="15.50" fill="#36a567"/>
<rect x="1044" y="798.00" width="5" height="14.50" fill="#36a567"/>
<rect x="1053" y="798.00" width="6" height="10.60" fill="#36a567"/>
<rect x="1062" y="798.00" width="6" height="9.60" fill="#36a567"/>
<rect x="1071" y="798.00" width="6" height="12.50" fill="#36a567"/>
<rect x="1080" y="798.00" width="6" height="13.50" fill="#36a567"/>
<rect x="1089" y="798.00" width="6" height="9.60" fill="#36a567"/>
<rect x="1098" y="798.00" width="6" height="14.50" fill="#36a567"/>
<rect x="1107" y="798.00" width="6" height="18.40" fill="#36a567"/>
<rect x="1116" y="798.00" width="6" height="14.50" fill="#36a567"/>
<rect x="1125" y="798.00" width="6" height="13.50" fill="#36a567"/>
<rect x="1134" y="798.00" width="6" height="9.60" fill="#36a567"/>
<rect x="1143" y="798.00" width="6" height="9.60" fill="#36a567"/>
<rect x="1153" y="798.00" width="5" height="13.50" fill="#36a567"/>
<rect x="1162" y="798.00" width="5" height="16.50" fill="#36a567"/>
<rect x="1171" y="798.00" width="6" height="5.60" fill="#36a567"/>
<rect x="1180" y="790.30" width="6" height="7.70" fill="#dd6555"/>
<rect x="1189" y="775.20" width="6" height="22.80" fill="#dd6555"/>
<rect x="1198" y="765.10" width="6" height="32.90" fill="#dd6555"/>
<rect x="1207" y="765.10" width="6" height="32.90" fill="#dd6555"/>
<rect x="1216" y="772.20" width="6" height="25.80" fill="#dd6555"/>
<rect x="1225" y="778.10" width="6" height="19.90" fill="#dd6555"/>
<rect x="1234" y="779.10" width="6" height="18.90" fill="#dd6555"/>
<rect x="1243" y="789.30" width="6" height="8.70" fill="#dd6555"/>
<rect x="1252" y="793.20" width="6" height="4.80" fill="#dd6555"/>
<rect x="1261" y="792.20" width="6" height="5.80" fill="#dd6555"/>
<rect x="1271" y="786.20" width="5" height="11.80" fill="#dd6555"/>
<rect x="1280" y="778.20" width="6" height="19.80" fill="#dd6555"/>
<rect x="1289" y="772.20" width="6" height="25.80" fill="#dd6555"/>
<rect x="1298" y="793.20" width="6" height="4.80" fill="#dd6555"/>
<rect x="1307" y="798.00" width="6" height="6.60" fill="#36a567"/>
<rect x="1316" y="798.00" width="6" height="14.60" fill="#36a567"/>
<rect x="1325" y="798.00" width="6" height="16.60" fill="#36a567"/>
<rect x="1334" y="798.00" width="6" height="17.50" fill="#36a567"/>
<rect x="1343" y="798.00" width="6" height="17.60" fill="#36a567"/>
<rect x="1352" y="798.00" width="6" height="10.80" fill="#36a567"/>
<rect x="1361" y="798.00" width="6" height="4.60" fill="#36a567"/>
<rect x="1370" y="798.00" width="6" height="0.40" fill="#36a567"/>
<rect x="1380" y="797.30" width="5" height="0.70" fill="#dd6555"/>
<rect x="1389" y="789.30" width="5" height="8.70" fill="#dd6555"/>
<rect x="1398" y="783.10" width="6" height="14.90" fill="#dd6555"/>
<rect x="1407" y="778.30" width="6" height="19.70" fill="#dd6555"/>
<rect x="1416" y="781.20" width="6" height="16.80" fill="#dd6555"/>
<rect x="1425" y="790.30" width="6" height="7.70" fill="#dd6555"/>
<rect x="1434" y="797.30" width="6" height="0.70" fill="#dd6555"/>
<rect x="1443" y="798.00" width="6" height="2.60" fill="#36a567"/>
<line x1="118.0" y1="798.0" x2="1513.9" y2="798.0" stroke="#6b6b6b" stroke-width="1.8"/>
<line x1="1446.02" y1="891.0" x2="1446.02" y2="697.4" stroke="#555" stroke-width="1.75" stroke-dasharray="7.5 3.52"/>
<g stroke="#141414" stroke-width="2" fill="none">
<polyline points="118.0,81.4 118.0,660.0 1513.9,660.0"/>
<polyline points="118.0,697.4 118.0,891.0 1513.9,891.0"/>
<line x1="184" y1="660.0" x2="184" y2="666.6"/>
<line x1="184" y1="891.0" x2="184" y2="897.6"/>
<line x1="320" y1="660.0" x2="320" y2="666.6"/>
<line x1="320" y1="891.0" x2="320" y2="897.6"/>
<line x1="456" y1="660.0" x2="456" y2="666.6"/>
<line x1="456" y1="891.0" x2="456" y2="897.6"/>
<line x1="602" y1="660.0" x2="602" y2="666.6"/>
<line x1="602" y1="891.0" x2="602" y2="897.6"/>
<line x1="738" y1="660.0" x2="738" y2="666.6"/>
<line x1="738" y1="891.0" x2="738" y2="897.6"/>
<line x1="883" y1="660.0" x2="883" y2="666.6"/>
<line x1="883" y1="891.0" x2="883" y2="897.6"/>
<line x1="1019" y1="660.0" x2="1019" y2="666.6"/>
<line x1="1019" y1="891.0" x2="1019" y2="897.6"/>
<line x1="1165" y1="660.0" x2="1165" y2="666.6"/>
<line x1="1165" y1="891.0" x2="1165" y2="897.6"/>
<line x1="1301" y1="660.0" x2="1301" y2="666.6"/>
<line x1="1301" y1="891.0" x2="1301" y2="897.6"/>
<line x1="1446" y1="660.0" x2="1446" y2="666.6"/>
<line x1="1446" y1="891.0" x2="1446" y2="897.6"/>
<line x1="111.0" y1="651.00" x2="118.0" y2="651.00"/>
<line x1="111.0" y1="579.00" x2="118.0" y2="579.00"/>
<line x1="111.0" y1="506.00" x2="118.0" y2="506.00"/>
<line x1="111.0" y1="434.00" x2="118.0" y2="434.00"/>
<line x1="111.0" y1="362.00" x2="118.0" y2="362.00"/>
<line x1="111.0" y1="290.00" x2="118.0" y2="290.00"/>
<line x1="111.0" y1="218.00" x2="118.0" y2="218.00"/>
<line x1="111.0" y1="146.00" x2="118.0" y2="146.00"/>
<line x1="111.4" y1="736.50" x2="118.0" y2="736.50"/>
<line x1="111.4" y1="798.00" x2="118.0" y2="798.00"/>
<line x1="111.4" y1="859.50" x2="118.0" y2="859.50"/>
</g>
<g font-family="Liberation Sans, sans-serif" fill="#000" stroke="#000" stroke-width="0.3">
<text x="118.00" y="37.9" font-size="30.3" textLength="32.00" lengthAdjust="spacingAndGlyphs">OI</text>
<rect x="162.30" y="15.70" width="2.6" height="28.0" fill="#000"/>
<text x="177.10" y="37.9" font-size="30.3" textLength="48.70" lengthAdjust="spacingAndGlyphs">3m</text>
<rect x="237.40" y="15.70" width="2.6" height="28.0" fill="#000"/>
<text x="252.70" y="37.9" font-size="30.3" textLength="169.30" lengthAdjust="spacingAndGlyphs">2026-04-13</text>
<text x="430.30" y="37.9" font-size="30.3" textLength="85.20" lengthAdjust="spacingAndGlyphs">22:36</text>
<text x="118.00" y="69.7" font-size="30.3" textLength="324.00" lengthAdjust="spacingAndGlyphs">Quality=RECOMMEND</text>
<rect x="453.95" y="47.50" width="2.6" height="28.0" fill="#000"/>
<text x="470.20" y="69.7" font-size="30.3" textLength="126.80" lengthAdjust="spacingAndGlyphs">V5=74.4</text>
<rect x="609.75" y="47.50" width="2.6" height="28.0" fill="#000"/>
<text x="624.00" y="69.7" font-size="30.3" textLength="201.00" lengthAdjust="spacingAndGlyphs">Band=top_30</text>
<text x="50.4" y="659.20" font-size="22.5" textLength="51.2" lengthAdjust="spacingAndGlyphs">9375</text>
<text x="50.4" y="587.20" font-size="22.5" textLength="51.2" lengthAdjust="spacingAndGlyphs">9400</text>
<text x="50.4" y="514.20" font-size="22.5" textLength="51.2" lengthAdjust="spacingAndGlyphs">9425</text>
<text x="50.4" y="442.20" font-size="22.5" textLength="51.2" lengthAdjust="spacingAndGlyphs">9450</text>
<text x="50.4" y="370.20" font-size="22.5" textLength="51.2" lengthAdjust="spacingAndGlyphs">9475</text>
<text x="50.4" y="298.20" font-size="22.5" textLength="51.2" lengthAdjust="spacingAndGlyphs">9500</text>
<text x="50.4" y="226.20" font-size="22.5" textLength="51.2" lengthAdjust="spacingAndGlyphs">9525</text>
<text x="50.4" y="154.20" font-size="22.5" textLength="51.2" lengthAdjust="spacingAndGlyphs">9550</text>
<text x="77.7" y="744.50" font-size="22.5" textLength="25.1" lengthAdjust="spacingAndGlyphs">10</text>
<text x="89.9" y="806.00" font-size="22.5" textLength="12.2" lengthAdjust="spacingAndGlyphs">0</text>
<text x="60.0" y="867.50" font-size="22.5" textLength="42.3" lengthAdjust="spacingAndGlyphs">−10</text>
<text x="159.00" y="928.9" font-size="18.5" textLength="49.5" lengthAdjust="spacingAndGlyphs">21:24</text>
<text x="295.20" y="928.9" font-size="18.5" textLength="49.5" lengthAdjust="spacingAndGlyphs">22:09</text>
<text x="431.40" y="928.9" font-size="18.5" textLength="49.5" lengthAdjust="spacingAndGlyphs">22:54</text>
<text x="576.68" y="928.9" font-size="18.5" textLength="49.5" lengthAdjust="spacingAndGlyphs">09:42</text>
<text x="712.88" y="928.9" font-size="18.5" textLength="49.5" lengthAdjust="spacingAndGlyphs">10:42</text>
<text x="858.16" y="928.9" font-size="18.5" textLength="49.5" lengthAdjust="spacingAndGlyphs">13:30</text>
<text x="994.36" y="928.9" font-size="18.5" textLength="49.5" lengthAdjust="spacingAndGlyphs">14:15</text>
<text x="1139.64" y="928.9" font-size="18.5" textLength="49.5" lengthAdjust="spacingAndGlyphs">21:03</text>
<text x="1275.84" y="928.9" font-size="18.5" textLength="49.5" lengthAdjust="spacingAndGlyphs">21:48</text>
<text x="1421.12" y="928.9" font-size="18.5" textLength="49.5" lengthAdjust="spacingAndGlyphs">22:36</text>
<line x1="132.2" y1="105.4" x2="168" y2="105.4" stroke="#2766e8" stroke-width="3.1"/>
<line x1="133.0" y1="131.9" x2="167" y2="131.9" stroke="#a97ee3" stroke-width="2.4" stroke-dasharray="8.2 3.9"/>
<text x="180.3" y="111.0" font-size="18.7" textLength="45" lengthAdjust="spacingAndGlyphs">MA15</text>
<text x="180.3" y="137.8" font-size="18.7" textLength="74.8" lengthAdjust="spacingAndGlyphs">PriorHigh</text>
<text transform="translate(31.6 824.2) rotate(-90)" x="0" y="0" font-size="21.1" textLength="54.6" lengthAdjust="spacingAndGlyphs">MACD</text>
</g>
<g font-family="Liberation Mono, monospace" fill="#000" stroke="#000" stroke-width="0.3" font-size="20.9" style="white-space:pre">
<text transform="translate(132.5 961.60) scale(1 1.12)" x="0" y="0" xml:space="preserve">ID: oi0_3m_20260413_2236</text>
<text transform="translate(132.5 988.47) scale(1 1.12)" x="0" y="0" xml:space="preserve">Denoise: passed | Votes: NA</text>
<text transform="translate(132.5 1015.34) scale(1 1.12)" x="0" y="0" xml:space="preserve">TradeDecision: RECOMMEND | V5=74.4 | Band=top_30</text>
<text transform="translate(132.5 1042.21) scale(1 1.12)" x="0" y="0" xml:space="preserve">PriorityHint: high | Decay: 0.051</text>
<text transform="translate(132.5 1069.08) scale(1 1.12)" x="0" y="0" xml:space="preserve">15m_leg: 7 | DayTag: FIRST_OF_DAY</text>
<text transform="translate(132.5 1095.95) scale(1 1.12)" x="0" y="0" xml:space="preserve">Context: 0.42 | ext: 0.39 | crowd: 0.46</text>
<text transform="translate(132.5 1122.82) scale(1 1.12)" x="0" y="0" xml:space="preserve">high/prior_high: 0.997137 | dist_ma_range: 0.147917</text>
</g>
</svg></body></html>
